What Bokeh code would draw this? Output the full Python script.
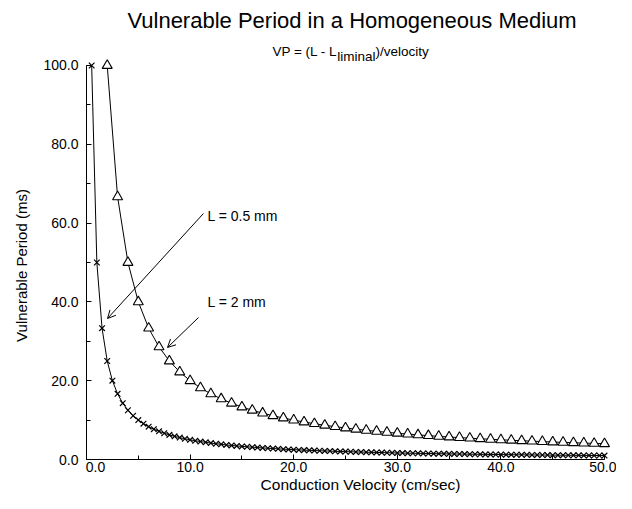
import math
from bokeh.plotting import figure
from bokeh.models import Range1d, SingleIntervalTicker, Label, Arrow, OpenHead, ColumnDataSource
from bokeh.embed import file_html
from bokeh.resources import INLINE

# ---- data ----
v_half = [0.5, 1.0, 1.5, 2.0, 2.5, 3.0, 3.5, 4.0, 4.5, 5.0, 5.5, 6.0, 6.5, 7.0, 7.5, 8.0, 8.5, 9.0, 9.5, 10.0,
          10.5, 11.0, 11.5, 12.0, 12.5, 13.0, 13.5, 14.0, 14.5, 15.0, 15.5, 16.0, 16.5, 17.0, 17.5, 18.0, 18.5, 19.0, 19.5, 20.0,
          20.5, 21.0, 21.5, 22.0, 22.5, 23.0, 23.5, 24.0, 24.5, 25.0, 25.5, 26.0, 26.5, 27.0, 27.5, 28.0, 28.5, 29.0, 29.5, 30.0,
          30.5, 31.0, 31.5, 32.0, 32.5, 33.0, 33.5, 34.0, 34.5, 35.0, 35.5, 36.0, 36.5, 37.0, 37.5, 38.0, 38.5, 39.0, 39.5, 40.0,
          40.5, 41.0, 41.5, 42.0, 42.5, 43.0, 43.5, 44.0, 44.5, 45.0, 45.5, 46.0, 46.5, 47.0, 47.5, 48.0, 48.5, 49.0, 49.5, 50.0]
vp_half = [100.0, 50.0, 33.33, 25.0, 20.0, 16.67, 14.29, 12.5, 11.11, 10.0, 9.09, 8.33, 7.69, 7.14, 6.67, 6.25, 5.88, 5.56, 5.26, 5.0,
           4.76, 4.55, 4.35, 4.17, 4.0, 3.85, 3.70, 3.57, 3.45, 3.33, 3.23, 3.13, 3.03, 2.94, 2.86, 2.78, 2.70, 2.63, 2.56, 2.5,
           2.44, 2.38, 2.33, 2.27, 2.22, 2.17, 2.13, 2.08, 2.04, 2.0, 1.96, 1.92, 1.89, 1.85, 1.82, 1.79, 1.75, 1.72, 1.69, 1.67,
           1.64, 1.61, 1.59, 1.56, 1.54, 1.52, 1.49, 1.47, 1.45, 1.43, 1.41, 1.39, 1.37, 1.35, 1.33, 1.32, 1.30, 1.28, 1.27, 1.25,
           1.23, 1.22, 1.20, 1.19, 1.18, 1.16, 1.15, 1.14, 1.12, 1.11, 1.10, 1.09, 1.08, 1.06, 1.05, 1.04, 1.03, 1.02, 1.01, 1.0]

v_two = [2, 3, 4, 5, 6, 7, 8, 9, 10, 11, 12, 13, 14, 15, 16, 17, 18, 19, 20, 21, 22, 23, 24, 25, 26,
         27, 28, 29, 30, 31, 32, 33, 34, 35, 36, 37, 38, 39, 40, 41, 42, 43, 44, 45, 46, 47, 48, 49, 50]
vp_two = [100.0, 66.67, 50.0, 40.0, 33.33, 28.57, 25.0, 22.22, 20.0, 18.18, 16.67, 15.38, 14.29, 13.33, 12.5, 11.76, 11.11,
          10.53, 10.0, 9.52, 9.09, 8.70, 8.33, 8.0, 7.69, 7.41, 7.14, 6.90, 6.67, 6.45, 6.25, 6.06, 5.88, 5.71, 5.56, 5.41,
          5.26, 5.13, 5.0, 4.88, 4.76, 4.65, 4.55, 4.44, 4.35, 4.26, 4.17, 4.08, 4.0]

x_ticks = [0, 10, 20, 30, 40, 50]
x_tick_labels = ["0.0", "10.0", "20.0", "30.0", "40.0", "50.0"]
y_ticks = [0, 20, 40, 60, 80, 100]
y_tick_labels = ["0.0", "20.0", "40.0", "60.0", "80.0", "100.0"]

title_text = "Vulnerable Period in a Homogeneous Medium"
sub_main = "VP = (L - L"
sub_sub = "liminal"
sub_tail = ")/velocity"
x_label = "Conduction Velocity (cm/sec)"
y_label = "Vulnerable Period (ms)"
label_a = "L = 0.5 mm"
label_b = "L = 2 mm"

FONT = "Liberation Sans"

# frame fills the whole canvas; axes are pinned at the data origin
p = figure(width=616, height=493, output_backend="svg", toolbar_location=None,
           x_range=Range1d(-8.301, 51.158), y_range=Range1d(-8.629, 116.497))
p.title = None
p.min_border_left = 0
p.min_border_right = 0
p.min_border_top = 0
p.min_border_bottom = 0
p.outline_line_color = None
p.grid.visible = False
p.background_fill_color = "white"
p.border_fill_color = "white"

src_a = ColumnDataSource(dict(x=v_half, y=vp_half))
src_b = ColumnDataSource(dict(x=v_two, y=vp_two))

p.line("x", "y", source=src_a, line_color="black", line_width=1)
p.line("x", "y", source=src_b, line_color="black", line_width=1)
p.scatter("x", "y", source=src_a, marker="x", size=8, line_color="black", line_width=1.2)
p.scatter("x", "y", source=src_b, marker="triangle", size=10, line_color="black",
          fill_color="white", line_width=1.1)

for ax in (p.xaxis[0], p.yaxis[0]):
    ax.fixed_location = 0
    ax.axis_line_color = "black"
    ax.axis_line_width = 1
    ax.major_tick_in = 5
    ax.major_tick_out = 0
    ax.minor_tick_in = 4
    ax.minor_tick_out = 0
    ax.major_tick_line_color = "black"
    ax.minor_tick_line_color = "black"
    ax.major_label_text_font = FONT
    ax.major_label_text_font_size = "14px"
    ax.major_label_text_color = "black"

p.xaxis[0].ticker = SingleIntervalTicker(interval=10, num_minor_ticks=2)
p.yaxis[0].ticker = SingleIntervalTicker(interval=20, num_minor_ticks=2)
p.xaxis[0].bounds = (0, 50)
p.yaxis[0].bounds = (0, 100)
x_over = {t: s for t, s in zip(x_ticks, x_tick_labels)}
x_over[0] = ""
p.xaxis[0].major_label_overrides = x_over
p.yaxis[0].major_label_overrides = {t: s for t, s in zip(y_ticks, y_tick_labels)}
p.xaxis[0].major_label_standoff = 2
p.yaxis[0].major_label_standoff = 8

# x "0.0" tick label sits a little right of the origin in the reference
p.add_layout(Label(x=0.87, y=-0.51, text=x_tick_labels[0], text_font=FONT, text_font_size="14px",
                   text_align="center", text_baseline="top", text_color="black"))

# axis titles
p.add_layout(Label(x=-6.27, y=49.24, text=y_label, angle=math.pi / 2, text_font=FONT,
                   text_font_size="15px", text_align="center", text_baseline="middle", text_color="black"))
p.add_layout(Label(x=26.45, y=-6.35, text=x_label, text_font=FONT,
                   text_font_size="15.5px", text_align="center", text_baseline="middle", text_color="black"))

# title & subtitle
p.add_layout(Label(x=25.63, y=111.42, text=title_text, text_font=FONT, text_font_size="22px",
                   text_align="center", text_baseline="alphabetic", text_color="black"))
sub_x = 17.95
p.add_layout(Label(x=sub_x, y=103.55, text=sub_main, text_font=FONT, text_font_size="13.5px",
                   text_align="left", text_baseline="alphabetic", text_color="black"))
p.add_layout(Label(x=sub_x, x_offset=64.9, y=102.28, text=sub_sub, text_font=FONT, text_font_size="13.5px",
                   text_align="left", text_baseline="alphabetic", text_color="black"))
p.add_layout(Label(x=sub_x, x_offset=103.1, y=103.55, text=sub_tail, text_font=FONT, text_font_size="13.5px",
                   text_align="left", text_baseline="alphabetic", text_color="black"))

# annotations
p.add_layout(Label(x=11.68, y=61.68, text=label_a, text_font=FONT, text_font_size="14px",
                   text_align="left", text_baseline="middle", text_color="black"))
p.add_layout(Label(x=11.68, y=40.10, text=label_b, text_font=FONT, text_font_size="14px",
                   text_align="left", text_baseline="middle", text_color="black"))
p.add_layout(Arrow(end=OpenHead(size=8, line_width=1, line_color="black"),
                   x_start=11.29, y_start=62.44, x_end=2.03, y_end=35.79,
                   line_color="black", line_width=1))
p.add_layout(Arrow(end=OpenHead(size=8, line_width=1, line_color="black"),
                   x_start=10.81, y_start=36.04, x_end=7.82, y_end=28.43,
                   line_color="black", line_width=1))

open("out.html", "w").write(file_html(p, INLINE))
